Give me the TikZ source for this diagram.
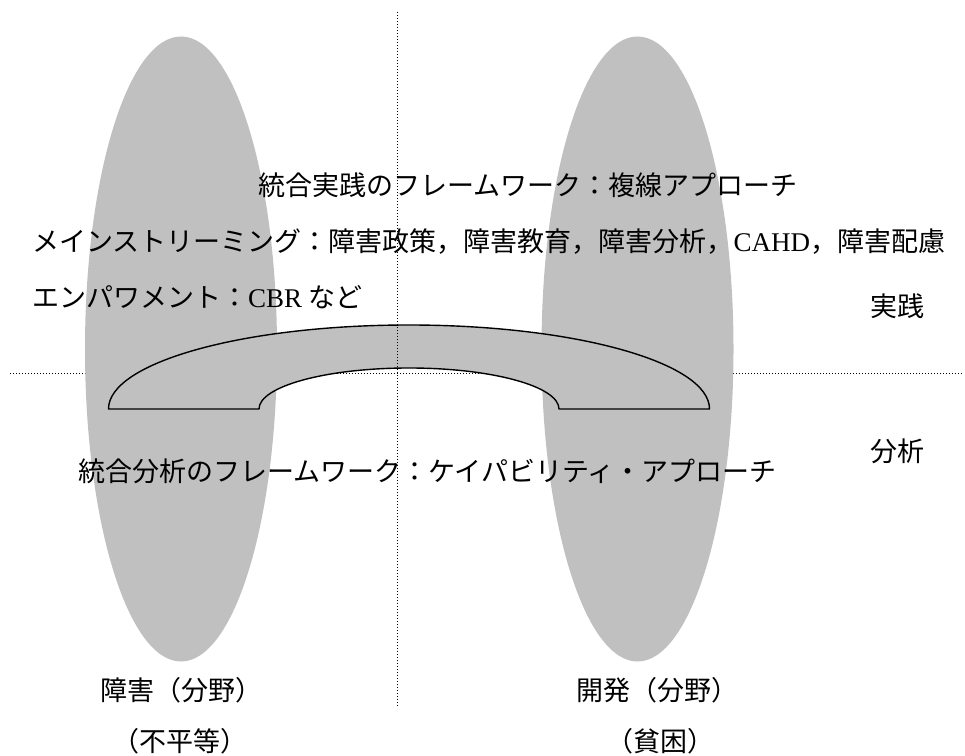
\documentclass[tikz,border=0pt]{standalone}
\usepackage{fontspec}
\newfontfamily\cjk{Noto Sans CJK JP}
\newfontfamily\latn{Liberation Serif}
\usetikzlibrary{shapes.geometric}
\definecolor{ellgray}{RGB}{192,192,192}
\tikzset{
  field/.style={ellipse, fill=ellgray, draw=none, inner sep=0pt, minimum width=192pt, minimum height=625pt},
  guide/.style={draw=black, line width=0.9pt, dash pattern=on 0.9pt off 2.1pt},
  bridge/.style={fill=ellgray, draw=black, line width=1.4pt, line join=round},
  lbl/.style={inner sep=0pt, font=\cjk\fontsize{27}{32}\selectfont, text=black},
}
\begin{document}
\begin{tikzpicture}[x=1pt,y=1pt]
\useasboundingbox (0,0) rectangle (965,755);
% horizontal guide (behind fields)
\coordinate (hL) at (10,382);
\coordinate (hR) at (962,382);
\draw[guide] (hL) -- (hR);
% fields
\node[field] (dis) at (181,406) {};
\node[field] (dev) at (637.5,406) {};
% bridge
\path[bridge] (108.5,346) arc[start angle=180,end angle=0,x radius=300.5pt,y radius=84pt]
  -- (559,346) arc[start angle=0,end angle=180,x radius=150pt,y radius=41pt] -- cycle;
% vertical guide
\coordinate (vT) at (397,743);
\coordinate (vB) at (397,48);
\draw[guide] (vT) -- (vB);
% texts
\node[lbl, anchor=base west] (t1) at (258,559) {統合実践のフレームワーク：複線アプローチ};
\node[lbl, anchor=base west] (t2) at (32,503) {メインストリーミング：障害政策，障害教育，障害分析，{\latn CAHD}，障害配慮};
\node[lbl, anchor=base west] (t3) at (32,447) {エンパワメント：{\latn CBR} など};
\node[lbl, anchor=base] (prac) at (897,438) {実践};
\node[lbl, anchor=base] (anal) at (897,293) {分析};
\node[lbl, anchor=base west] (t4) at (78,273) {統合分析のフレームワーク：ケイパビリティ・アプローチ};
\node[lbl, anchor=base] (disl) at (181,55) {障害（分野）};
\node[lbl, anchor=base] (devl) at (657,55) {開発（分野）};
\node[lbl, anchor=base] (ineq) at (180,4) {（不平等）};
\node[lbl, anchor=base] (pov) at (660,4) {（貧困）};
\end{tikzpicture}
\end{document}
